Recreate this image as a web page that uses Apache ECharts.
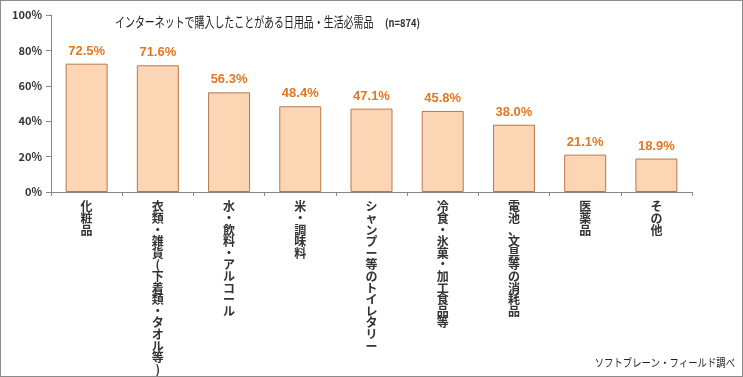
<!DOCTYPE html>
<html>
<head>
<meta charset="utf-8">
<script src="https://cdn.jsdelivr.net/npm/echarts@6/dist/echarts.min.js"></script>
<style>
  html, body { margin: 0; padding: 0; background: #fff; }
  #wrap { position: relative; width: 743px; height: 377px; }
  #chart { width: 743px; height: 377px; }
  #frame { position: absolute; left: 0; top: 0; width: 743px; height: 377px; box-sizing: border-box; border: 1px solid #8c8c8c; pointer-events: none; }
</style>
</head>
<body>
<div id="wrap">
  <div id="chart"></div>
  <div id="frame"></div>
</div>
<script>
// 日用品・生活必需品 (n=874)
const titleText = 'インターネットで購入したことがある日用品・生活必需品'
const sampleText = '(n=874)'
const sourceText = 'ソフトブレーン・フィールド調べ'
const categories = [
  '化粧品',
  '衣類・雑貨(下着類・タオル等)',
  '水・飲料・アルコール',
  '米・調味料',
  'シャンプー等のトイレタリー',
  '冷食・氷菓・加工食品等',
  '電池、文具等の消耗品',
  '医薬品',
  'その他'
]
const values = [72.5, 71.6, 56.3, 48.4, 47.1, 45.8, 38.0, 21.1, 18.9]
const yTicks = [0, 20, 40, 60, 80, 100]

const chart = echarts.init(document.getElementById('chart'))

// vertical (tategaki) labels: one char per line
const vert = s => s.split('').join('\n')
const jp = '"Noto Sans CJK JP", sans-serif'

chart.setOption({
  animation: false,
  textStyle: { fontFamily: '"Noto Sans CJK JP", "Noto Sans", sans-serif' },
  graphic: [
    {
      type: 'text',
      x: 115, y: 22, scaleX: 0.71,
      style: { text: titleText, fontSize: 14, fill: '#222', fontFamily: jp, verticalAlign: 'middle' }
    },
    {
      type: 'text',
      x: 385, y: 23, scaleX: 0.85,
      style: { text: sampleText, fontSize: 11, fontWeight: 'bold', fill: '#333', fontFamily: jp, verticalAlign: 'middle' }
    },
    {
      type: 'text',
      x: 735, y: 363, scaleX: 0.85,
      style: { text: sourceText, fontSize: 11, fill: '#222', fontFamily: jp, align: 'right', verticalAlign: 'middle' }
    }
  ],
  grid: { left: 51, right: 51, top: 15, bottom: 185 },
  xAxis: {
    type: 'category',
    data: categories,
    axisLine: { lineStyle: { color: '#868686' } },
    axisTick: { show: true, length: 4, lineStyle: { color: '#868686' } },
    axisLabel: {
      interval: 0,
      margin: 9,
      verticalAlign: 'top',
      formatter: v => vert(v),
      fontSize: 12,
      lineHeight: 11.6,
      fontWeight: 'bold',
      color: '#333'
    }
  },
  yAxis: {
    type: 'value',
    min: 0,
    max: 100,
    interval: 20,
    axisLine: { show: true, lineStyle: { color: '#868686' } },
    axisTick: { show: true, length: 5, lineStyle: { color: '#868686' } },
    splitLine: { show: false },
    axisLabel: {
      margin: 9,
      fontSize: 11,
      fontWeight: 'bold',
      color: '#333',
      formatter: v => yTicks.includes(v) ? v + '%' : ''
    }
  },
  series: [{
    type: 'bar',
    data: values,
    barWidth: 42,
    itemStyle: { color: '#fcd5b4', borderColor: '#b8794a', borderWidth: 1 },
    label: {
      show: true,
      position: 'top',
      distance: 6,
      formatter: p => p.value.toFixed(1) + '%',
      fontSize: 13,
      fontWeight: 'bold',
      color: '#e2781f',
      fontFamily: 'Arial, "Liberation Sans", sans-serif'
    }
  }]
})
</script>
</body>
</html>
